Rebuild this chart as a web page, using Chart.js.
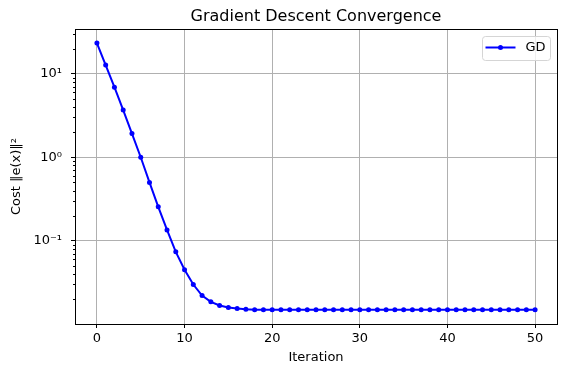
<!DOCTYPE html>
<html>
<head>
<meta charset="utf-8">
<script src="https://cdn.jsdelivr.net/npm/chart.js@4"></script>
<style>
  body { margin: 0; background: #fff; }
  canvas { display: block; }
</style>
</head>
<body>
<canvas id="gdChart" width="566" height="374"></canvas>
<script>
const iterations = [];
for (let i = 0; i <= 50; i++) iterations.push(i);

const costGD = [
  23.3, 12.7, 6.9, 3.67, 1.92, 1.0, 0.50, 0.255, 0.135, 0.0738,
  0.045, 0.030, 0.0221, 0.0186, 0.0168, 0.0159, 0.0155, 0.0152, 0.0150, 0.0150,
  0.0150, 0.0150, 0.0150, 0.0150, 0.0150, 0.0150, 0.0150, 0.0150, 0.0150, 0.0150,
  0.0150, 0.0150, 0.0150, 0.0150, 0.0150, 0.0150, 0.0150, 0.0150, 0.0150, 0.0150,
  0.0150, 0.0150, 0.0150, 0.0150, 0.0150, 0.0150, 0.0150, 0.0150, 0.0150, 0.0150,
  0.0150
];

const xTicks = [0, 10, 20, 30, 40, 50];
const yTicks = [0.1, 1, 10];
const yTickLabels = ['10⁻¹', '10⁰', '10¹'];
const yMinorTicks = [0.02, 0.03, 0.04, 0.05, 0.06, 0.07, 0.08, 0.09,
  0.2, 0.3, 0.4, 0.5, 0.6, 0.7, 0.8, 0.9,
  2, 3, 4, 5, 6, 7, 8, 9, 20, 30];

Chart.defaults.font.family = '"DejaVu Sans", sans-serif';
Chart.defaults.color = '#000';

const ctx = document.getElementById('gdChart').getContext('2d');

// title over the plot area, frame, minor log ticks, legend box in the corner
const extras = {
  id: 'extras',
  afterDatasetsDraw(chart) {
    const { ctx, chartArea: a, scales } = chart;
    ctx.save();
    ctx.fillStyle = '#000';
    ctx.font = '16px "DejaVu Sans", sans-serif';
    ctx.textAlign = 'center';
    ctx.textBaseline = 'alphabetic';
    ctx.fillText('Gradient Descent Convergence', (a.left + a.right) / 2, 20.5);

    ctx.strokeStyle = '#000';
    ctx.lineWidth = 1;
    ctx.strokeRect(a.left + 0.5, a.top + 0.5, a.right - a.left, a.bottom - a.top);

    ctx.beginPath();
    yMinorTicks.forEach(v => {
      const y = Math.round(scales.y.getPixelForValue(v)) + 0.5;
      ctx.moveTo(a.left - 2, y);
      ctx.lineTo(a.left, y);
    });
    ctx.stroke();

    // legend
    const bx = 482.5, by = 36.5, bw = 68, bh = 24;
    ctx.fillStyle = 'rgba(255,255,255,0.8)';
    ctx.strokeStyle = '#d5d5d5';
    ctx.beginPath();
    ctx.roundRect(bx, by, bw, bh, 3);
    ctx.fill();
    ctx.stroke();
    const ly = by + 11;
    ctx.strokeStyle = '#0000ff';
    ctx.lineWidth = 2;
    ctx.beginPath();
    ctx.moveTo(bx + 3, ly);
    ctx.lineTo(bx + 33, ly);
    ctx.stroke();
    ctx.fillStyle = '#0000ff';
    ctx.beginPath();
    ctx.arc(bx + 18, ly, 2.5, 0, Math.PI * 2);
    ctx.fill();
    ctx.fillStyle = '#000';
    ctx.font = '13px "DejaVu Sans", sans-serif';
    ctx.textAlign = 'left';
    ctx.textBaseline = 'middle';
    ctx.fillText('GD', bx + 43, ly + 0.5);
    ctx.restore();
  }
};

new Chart(ctx, {
  type: 'line',
  data: {
    datasets: [{
      label: 'GD',
      data: iterations.map((x, i) => ({ x: x, y: costGD[i] })),
      borderColor: '#0000ff',
      backgroundColor: '#0000ff',
      borderWidth: 2,
      pointRadius: 2.5,
      pointBorderWidth: 0,
      pointHoverRadius: 2.5,
      tension: 0,
      fill: false
    }]
  },
  options: {
    responsive: false,
    animation: false,
    devicePixelRatio: 1,
    layout: { padding: { left: 0, right: 9, top: 29, bottom: 0 } },
    plugins: {
      legend: { display: false },
      tooltip: { enabled: false },
      title: { display: false }
    },
    scales: {
      x: {
        type: 'linear',
        min: -2.5,
        max: 52.5,
        afterBuildTicks: s => { s.ticks = xTicks.map(v => ({ value: v })); },
        afterFit: s => { s.height = 50; },
        grid: { color: '#b0b0b0', lineWidth: 1, tickColor: '#000', tickLength: 4 },
        border: { color: '#000' },
        ticks: { font: { size: 13 }, padding: 3, maxRotation: 0 },
        title: { display: true, text: 'Iteration', font: { size: 13 }, padding: { bottom: 9 } }
      },
      y: {
        type: 'logarithmic',
        min: 0.0101,
        max: 34.3,
        afterBuildTicks: s => { s.ticks = yTicks.map(v => ({ value: v })); },
        afterFit: s => { s.width = 75; },
        grid: { color: '#b0b0b0', lineWidth: 1, tickColor: '#000', tickLength: 4 },
        border: { color: '#000' },
        ticks: {
          font: { size: 13 },
          padding: 9,
          callback: v => yTickLabels[yTicks.indexOf(v)]
        },
        title: { display: true, text: 'Cost ‖e(x)‖²', font: { size: 13 }, padding: { top: 9 } }
      }
    }
  },
  plugins: [extras]
});
</script>
</body>
</html>
